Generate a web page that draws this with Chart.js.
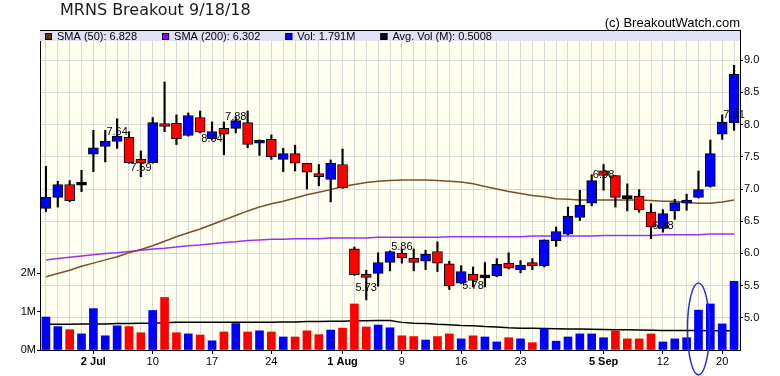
<!DOCTYPE html>
<html>
<head>
<meta charset="utf-8">
<script src="https://cdn.jsdelivr.net/npm/chart.js@4.4.1/dist/chart.umd.min.js"></script>
<style>
  html, body { margin: 0; padding: 0; background: #fff; }
</style>
</head>
<body>
<canvas id="myChart" width="780" height="376"></canvas>
<script>
// MRNS daily candles, 59 sessions ending 20 Sep 2018
var tickIdx = [4, 9, 14, 19, 25, 30, 35, 40, 47, 52, 57];
var tickText = ["2 Jul", "10", "17", "24", "1 Aug", "9", "16", "23", "5 Sep", "12", "20"];
var boldTicks = ["2 Jul", "1 Aug", "5 Sep"];
var priceTicks = [5.0, 5.5, 6.0, 6.5, 7.0, 7.5, 8.0, 8.5, 9.0];
var volTicks = [0, 1, 2];

var open = [6.70, 6.87, 7.07, 7.06, 7.54, 7.66, 7.74, 7.80, 7.46, 7.41,
  8.00, 8.02, 7.83, 8.11, 7.78, 7.94, 7.94, 8.03, 7.71, 7.77,
  7.46, 7.55, 7.40, 7.24, 7.15, 7.38, 6.07, 5.67, 5.69, 5.86,
  6.00, 5.93, 5.88, 6.03, 5.84, 5.54, 5.68, 5.62, 5.65, 5.85,
  5.75, 5.85, 5.81, 6.20, 6.30, 6.56, 6.78, 7.28, 7.21, 6.85,
  6.89, 6.64, 6.39, 6.66, 6.78, 6.87, 7.04, 7.85, 8.03];
var close = [6.87, 7.07, 6.82, 7.06, 7.64, 7.74, 7.82, 7.41, 7.40, 8.03,
  7.97, 7.78, 8.14, 7.88, 7.89, 7.85, 8.06, 7.69, 7.74, 7.50,
  7.55, 7.40, 7.26, 7.19, 7.40, 7.02, 5.67, 5.63, 5.86, 6.03,
  5.93, 5.86, 5.99, 5.85, 5.50, 5.72, 5.58, 5.62, 5.83, 5.77,
  5.82, 5.81, 6.21, 6.34, 6.58, 6.75, 7.13, 7.21, 6.87, 6.85,
  6.68, 6.41, 6.62, 6.79, 6.82, 6.99, 7.55, 8.04, 8.78];
var high = [7.35, 7.12, 7.13, 7.29, 7.91, 7.91, 8.09, 7.89, 7.59, 8.11,
  8.66, 8.15, 8.18, 8.21, 8.04, 8.04, 8.12, 8.21, 7.76, 7.84,
  7.63, 7.68, 7.40, 7.38, 7.45, 7.62, 6.10, 5.74, 6.01, 6.04,
  6.07, 6.07, 6.05, 6.18, 5.88, 5.81, 5.79, 5.86, 5.92, 6.01,
  5.89, 5.92, 6.21, 6.41, 6.72, 6.98, 7.22, 7.38, 7.21, 7.08,
  6.99, 6.77, 6.68, 6.84, 6.92, 7.28, 7.76, 8.15, 8.92];
var low = [6.65, 6.72, 6.80, 6.96, 7.27, 7.42, 7.63, 7.40, 7.19, 7.40,
  7.89, 7.69, 7.82, 7.87, 7.77, 7.53, 7.87, 7.64, 7.52, 7.46,
  7.27, 7.28, 7.00, 7.05, 6.80, 7.01, 5.66, 5.28, 5.49, 5.73,
  5.85, 5.73, 5.75, 5.72, 5.44, 5.53, 5.48, 5.48, 5.64, 5.76,
  5.70, 5.75, 5.79, 6.11, 6.29, 6.51, 6.74, 6.98, 6.72, 6.66,
  6.64, 6.23, 6.33, 6.53, 6.67, 6.86, 7.03, 7.77, 7.91];
// volume in millions
var volume = [0.86, 0.61, 0.53, 0.42, 1.08, 0.37, 0.63, 0.61, 0.45, 1.03,
  1.37, 0.45, 0.42, 0.39, 0.24, 0.47, 0.69, 0.47, 0.50, 0.47,
  0.34, 0.34, 0.50, 0.40, 0.52, 0.57, 1.20, 0.60, 0.65, 0.58,
  0.37, 0.35, 0.26, 0.35, 0.42, 0.29, 0.37, 0.34, 0.21, 0.32,
  0.29, 0.19, 0.55, 0.23, 0.34, 0.42, 0.42, 0.32, 0.50, 0.29,
  0.29, 0.42, 0.21, 0.29, 0.32, 1.04, 1.20, 0.68, 1.791];
var sma50 = [5.64, 5.69, 5.74, 5.80, 5.85, 5.90, 5.95, 6.01, 6.06, 6.12,
  6.19, 6.26, 6.32, 6.38, 6.45, 6.52, 6.59, 6.66, 6.72, 6.77,
  6.81, 6.86, 6.91, 6.95, 6.99, 7.04, 7.07, 7.10, 7.12, 7.13,
  7.14, 7.14, 7.14, 7.13, 7.12, 7.11, 7.08, 7.04, 7.00, 6.96,
  6.93, 6.90, 6.88, 6.85, 6.84, 6.83, 6.83, 6.83, 6.83, 6.83,
  6.83, 6.82, 6.81, 6.81, 6.79, 6.78, 6.78, 6.80, 6.828];
var sma200 = [5.90, 5.92, 5.94, 5.96, 5.98, 6.00, 6.01, 6.03, 6.05, 6.07,
  6.08, 6.10, 6.12, 6.13, 6.15, 6.17, 6.18, 6.20, 6.21, 6.22,
  6.22, 6.23, 6.23, 6.23, 6.24, 6.24, 6.24, 6.24, 6.25, 6.25,
  6.25, 6.25, 6.25, 6.25, 6.26, 6.26, 6.26, 6.26, 6.26, 6.26,
  6.26, 6.27, 6.27, 6.27, 6.27, 6.27, 6.27, 6.28, 6.28, 6.28,
  6.28, 6.28, 6.29, 6.29, 6.29, 6.29, 6.30, 6.30, 6.302];
var avgVol = [0.67, 0.67, 0.67, 0.68, 0.68, 0.68, 0.69, 0.69, 0.70, 0.70,
  0.71, 0.72, 0.72, 0.72, 0.72, 0.72, 0.72, 0.72, 0.72, 0.72,
  0.73, 0.73, 0.74, 0.74, 0.75, 0.75, 0.76, 0.76, 0.77, 0.77,
  0.72, 0.70, 0.69, 0.67, 0.66, 0.64, 0.63, 0.61, 0.60, 0.58,
  0.57, 0.565, 0.56, 0.555, 0.55, 0.545, 0.54, 0.535, 0.53, 0.525,
  0.52, 0.515, 0.51, 0.51, 0.505, 0.505, 0.50, 0.50, 0.5008];

// pivot notes printed on the chart
var noteIdx = [6, 8, 14, 16, 27, 30, 36, 47, 52, 58];
var noteText = ["7.64", "7.59", "8.04", "7.88", "5.73", "5.86", "5.78", "6.98", "6.38", "7.91"];
var noteAt = [7.88, 7.33, 7.78, 8.12, 5.46, 6.10, 5.50, 7.21, 6.42, 8.15];
var ringIdx = 55;

var UP = "#0000ff", DOWN = "#ff0000";

var categories = open.map(function (v, i) {
  var k = tickIdx.indexOf(i);
  return k >= 0 ? tickText[k] : "";
});
var bodies = open.map(function (o, i) { return [o, close[i]]; });
var wicks = low.map(function (l, i) { return [l, high[i]]; });
var bodyColors = open.map(function (o, i) {
  if (close[i] > o) return UP;
  if (close[i] < o) return DOWN;
  return "#000";
});
var volColors = volume.map(function (v, i) {
  return i === 0 || close[i] >= close[i - 1] ? UP : DOWN;
});

var last = open.length - 1;
var legendItems = [
  ["SMA (50): " + sma50[last].toFixed(3), "#663300"],
  ["SMA (200): " + sma200[last].toFixed(3), "#9900ff"],
  ["Vol: " + volume[last].toFixed(3) + "M", "#0000ff"],
  ["Avg. Vol (M): " + avgVol[last].toFixed(4), "#000000"]
];

var decor = {
  id: "decor",
  beforeDraw: function (chart) {
    var c = chart.ctx, a = chart.chartArea;
    c.save();
    c.fillStyle = "#fffff0";
    c.fillRect(a.left, a.top, a.right - a.left, a.bottom - a.top);
    c.restore();
  },
  afterDatasetsDraw: function (chart) {
    var c = chart.ctx, a = chart.chartArea;
    var xs = chart.scales.x, ps = chart.scales.price;
    c.save();
    // legend band
    c.fillStyle = "#e0e0f7";
    c.fillRect(a.left, a.top, a.right - a.left, 11);
    c.strokeStyle = "#000";
    c.lineWidth = 1;
    c.beginPath();
    c.moveTo(a.left, a.top + 0.5);
    c.lineTo(a.right, a.top + 0.5);
    c.stroke();
    c.font = "11px 'Liberation Sans', Arial, sans-serif";
    c.textBaseline = "middle";
    var x = a.left + 5;
    legendItems.forEach(function (it) {
      c.fillStyle = it[1];
      c.fillRect(x, a.top + 3, 7, 7);
      c.strokeStyle = "#000";
      c.strokeRect(x + 0.5, a.top + 3.5, 6, 6);
      c.fillStyle = "#000";
      c.fillText(it[0], x + 12, a.top + 6.5);
      x += 12 + c.measureText(it[0]).width + 25;
    });
    // pivot notes
    c.textAlign = "center";
    noteIdx.forEach(function (idx, k) {
      c.fillText(noteText[k], xs.getPixelForValue(idx), ps.getPixelForValue(noteAt[k]));
    });
    c.restore();
  },
  afterDraw: function (chart) {
    var c = chart.ctx, a = chart.chartArea;
    c.save();
    c.fillStyle = "#1a1a1a";
    c.font = "16px 'DejaVu Sans', sans-serif";
    c.textBaseline = "alphabetic";
    c.fillText("MRNS Breakout 9/18/18", 60, 14.5);
    c.font = "13px 'Liberation Sans', Arial, sans-serif";
    c.textAlign = "right";
    c.fillStyle = "#000";
    c.fillText("(c) BreakoutWatch.com", a.right, 26.5);
    // ring round the breakout volume bar
    var cx = chart.scales.x.getPixelForValue(ringIdx);
    var cy = chart.scales.vol.getPixelForValue(0.55);
    c.strokeStyle = "#2233dd";
    c.lineWidth = 1.5;
    c.beginPath();
    c.ellipse(cx, cy, 11, 46, 0, 0, Math.PI * 2);
    c.stroke();
    c.restore();
  }
};

Chart.defaults.font.family = "'Liberation Sans', Arial, sans-serif";
Chart.defaults.font.size = 11;
Chart.defaults.color = "#000";

var ctx = document.getElementById("myChart").getContext("2d");

var myChart = new Chart(ctx, {
  type: "bar",
  data: {
    labels: categories,
    datasets: [
      {
        type: "line",
        label: "Avg. Vol",
        data: avgVol,
        yAxisID: "vol",
        borderColor: "#000",
        borderWidth: 1.5,
        pointRadius: 0,
        order: 9
      },
      {
        label: "Vol",
        data: volume,
        yAxisID: "vol",
        backgroundColor: volColors,
        barThickness: 8,
        grouped: false,
        order: 8
      },
      {
        type: "line",
        label: "SMA (200)",
        data: sma200,
        yAxisID: "price",
        borderColor: "#a030f0",
        borderWidth: 1.5,
        pointRadius: 0,
        order: 7
      },
      {
        type: "line",
        label: "SMA (50)",
        data: sma50,
        yAxisID: "price",
        borderColor: "#7a5028",
        borderWidth: 1.5,
        pointRadius: 0,
        order: 6
      },
      {
        label: "Range",
        data: wicks,
        yAxisID: "price",
        backgroundColor: "#000",
        barThickness: 1.5,
        grouped: false,
        order: 5
      },
      {
        label: "Body",
        data: bodies,
        yAxisID: "price",
        backgroundColor: bodyColors,
        borderColor: "#000",
        borderWidth: 1,
        borderSkipped: false,
        barThickness: 10,
        minBarLength: 3,
        grouped: false,
        order: 4
      }
    ]
  },
  options: {
    responsive: false,
    animation: false,
    layout: { padding: { top: 30, left: 0, right: 0, bottom: 0 } },
    plugins: {
      legend: { display: false },
      tooltip: { enabled: false }
    },
    scales: {
      x: {
        offset: true,
        afterFit: function (scale) { scale.height = 26; },
        border: { color: "#000" },
        grid: {
          offset: false,
          color: "#d9d9d9",
          tickLength: 4,
          tickColor: function (c) { return tickIdx.indexOf(c.index) >= 0 ? "#000" : "rgba(0,0,0,0)"; }
        },
        ticks: {
          autoSkip: false,
          maxRotation: 0,
          minRotation: 0,
          padding: 1,
          font: function (c) {
            var k = tickIdx.indexOf(c.index);
            var bold = k >= 0 && boldTicks.indexOf(tickText[k]) >= 0;
            return { size: 11, weight: bold ? "bold" : "normal" };
          },
          callback: function (v, i) { return categories[i]; }
        }
      },
      vol: {
        type: "linear",
        position: "left",
        min: 0,
        max: 8.34,
        afterFit: function (scale) { scale.width = 40; },
        afterBuildTicks: function (scale) {
          scale.ticks = volTicks.map(function (v) { return { value: v }; });
        },
        border: { color: "#000" },
        grid: { drawOnChartArea: false, tickLength: 3, tickColor: "#000" },
        ticks: {
          padding: 1,
          callback: function (v) { return v + "M"; }
        }
      },
      price: {
        type: "linear",
        position: "right",
        min: 4.502,
        max: 9.467,
        afterFit: function (scale) { scale.width = 40; },
        afterBuildTicks: function (scale) {
          scale.ticks = priceTicks.map(function (v) { return { value: v }; });
        },
        border: { color: "#000" },
        grid: { color: "#d9d9d9", tickLength: 3, tickColor: "#000" },
        ticks: {
          padding: 1,
          callback: function (v) { return Number(v).toFixed(1); }
        }
      }
    }
  },
  plugins: [decor]
});
</script>
</body>
</html>
